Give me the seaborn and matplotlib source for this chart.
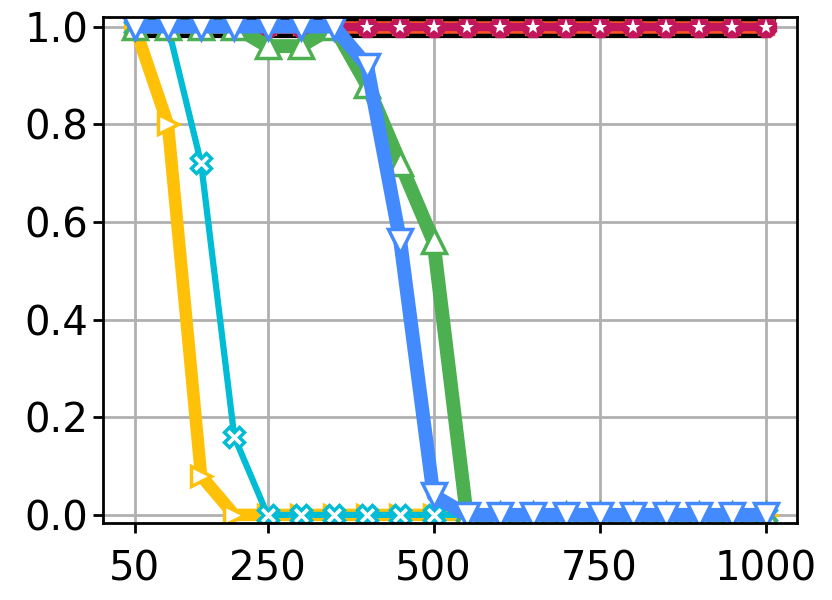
import seaborn as sns
import matplotlib.pyplot as plt
import numpy as np
import pandas as pd

x = list(range(50, 1001, 50))
ref_black = [1.0] * 20
ref_orange = [1.0] * 20
ref_crimson = [1.0] * 20
yellow = [1.0, 0.80, 0.08] + [0.0] * 17
cyan = [1.0, 1.0, 0.72, 0.16] + [0.0] * 16
green = [1.0, 1.0, 1.0, 1.0, 0.96, 0.96, 1.0, 0.88, 0.72, 0.56] + [0.0] * 10
blue = [1.0, 1.0, 1.0, 1.0, 1.0, 1.0, 1.0, 0.92, 0.56, 0.04] + [0.0] * 10

sns.set_style("whitegrid")
plt.rcParams.update({
    "font.family": ["DejaVu Sans"],
    "font.size": 29,
    "axes.edgecolor": "black",
    "axes.linewidth": 2,
    "grid.color": "#b0b0b0",
    "grid.linewidth": 2,
    "xtick.major.size": 7,
    "ytick.major.size": 7,
    "xtick.major.width": 2,
    "ytick.major.width": 2,
    "xtick.bottom": True,
    "ytick.left": True,
})

fig, ax = plt.subplots(figsize=(8.32, 6), dpi=100)
fig.subplots_adjust(left=0.124, right=0.958, top=0.972, bottom=0.128)

styles = [
    (ref_black, "black", 16, "v", 14, "black", "black", 1),
    (ref_orange, "#FF5722", 9, "s", 12, "#FF5722", "#FF5722", 1),
    (ref_crimson, "#C2185B", 6, "8", 15, "#C2185B", "#C2185B", 1),
    (yellow, "#FFC107", 9, ">", 15, "white", "#FFC107", 2.5),
    (cyan, "#00BCD4", 4.5, "X", 15, "white", "#00BCD4", 2.5),
    (green, "#4CAF50", 10, "^", 17, "white", "#4CAF50", 2.5),
    (blue, "#448AFF", 10, "v", 17, "white", "#448AFF", 2.5),
]

for vals, col, lw, mk, ms, mfc, mec, mew in styles:
    df = pd.DataFrame({"x": x, "y": vals})
    sns.lineplot(data=df, x="x", y="y", ax=ax, color=col, linewidth=lw,
                 marker=mk, markersize=ms, markerfacecolor=mfc,
                 markeredgecolor=mec, markeredgewidth=mew)
    if col == "#C2185B":
        # white star inside the crimson markers
        sns.lineplot(data=df, x="x", y="y", ax=ax, linestyle="none",
                     marker="*", markersize=11, color="white",
                     markeredgewidth=0)

ax.set_xticks([50, 250, 500, 750, 1000])
ax.set_yticks([0.0, 0.2, 0.4, 0.6, 0.8, 1.0])
ax.set_yticklabels(["0.0", "0.2", "0.4", "0.6", "0.8", "1.0"])
ax.set_ylim(-0.017, 1.02)
ax.set_xlabel("")
ax.set_ylabel("")
ax.tick_params(labelsize=29, colors="black")
ax.tick_params(axis="x", pad=12)

fig.savefig("out.png", dpi=100)
